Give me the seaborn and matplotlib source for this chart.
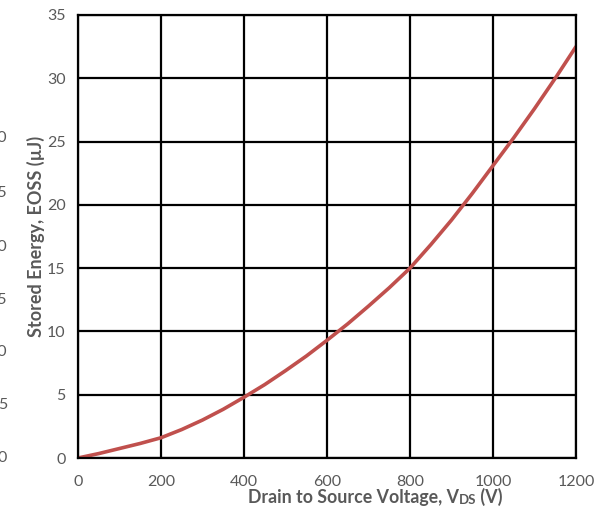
import pandas as pd
import seaborn as sns
import matplotlib.pyplot as plt

# values (every 50 V)
vds = [0, 50, 100, 150, 200, 250, 300, 350, 400, 450, 500, 550, 600,
       650, 700, 750, 800, 850, 900, 950, 1000, 1050, 1100, 1150, 1200]
eoss = [0, 0.35, 0.75, 1.15, 1.6, 2.25, 3.0, 3.85, 4.8, 5.8, 6.9, 8.05, 9.3,
        10.6, 12.0, 13.45, 15.0, 16.85, 18.8, 20.9, 23.1, 25.3, 27.6, 30.0, 32.5]
x_ticks = [0, 200, 400, 600, 800, 1000, 1200]
y_ticks = [0, 5, 10, 15, 20, 25, 30, 35]
# cut-off tick labels of a neighbouring chart, visible at the left edge
stray_labels = ['30', '25', '20', '15', '10', '5', '0']
stray_y_px = [138, 193, 247, 300, 352, 405, 458]

df = pd.DataFrame({'VDS': vds, 'EOSS': eoss})

sns.set_style('white')
plt.rcParams['font.family'] = ['Lato', 'DejaVu Sans']
gray = '#595959'

W, H = 605, 512
fig = plt.figure(figsize=(W / 100, H / 100), dpi=100)
ax = fig.add_axes([78 / W, 1 - 458 / H, (576 - 78) / W, (458 - 15) / H])

sns.lineplot(data=df, x='VDS', y='EOSS', ax=ax, color='#C0504D', linewidth=2.6)

ax.set_xlim(0, 1200)
ax.set_ylim(0, 35)
ax.set_xticks(x_ticks)
ax.set_yticks(y_ticks)
ax.grid(True, color='black', linewidth=1.6)
for s in ax.spines.values():
    s.set_color('black')
    s.set_linewidth(1.6)
ax.tick_params(axis='both', length=0, labelsize=11.5, labelcolor=gray)
ax.tick_params(axis='x', pad=12)
ax.tick_params(axis='y', pad=9)
ax.set_xlabel('')
ax.set_ylabel('Stored Energy, EOSS (µJ)', fontsize=13, fontweight='bold',
              color=gray, labelpad=1)

# x label with small "DS" part
t1 = fig.text(248 / W, 1 - 503 / H, 'Drain to Source Voltage, V', fontsize=12.8,
              fontweight='bold', color=gray, va='baseline')
t2 = ax.annotate('DS', xycoords=t1, xy=(1, 0), va='bottom', fontsize=9.5,
                 fontweight='bold', color=gray)
ax.annotate(' (V)', xycoords=t2, xy=(1, 0), va='bottom', fontsize=12.8,
            fontweight='bold', color=gray)

for lab, ypx in zip(stray_labels, stray_y_px):
    fig.text(7 / W, 1 - ypx / H, lab, ha='right', va='center', fontsize=11.5, color=gray)

fig.savefig('out.png', dpi=100)
